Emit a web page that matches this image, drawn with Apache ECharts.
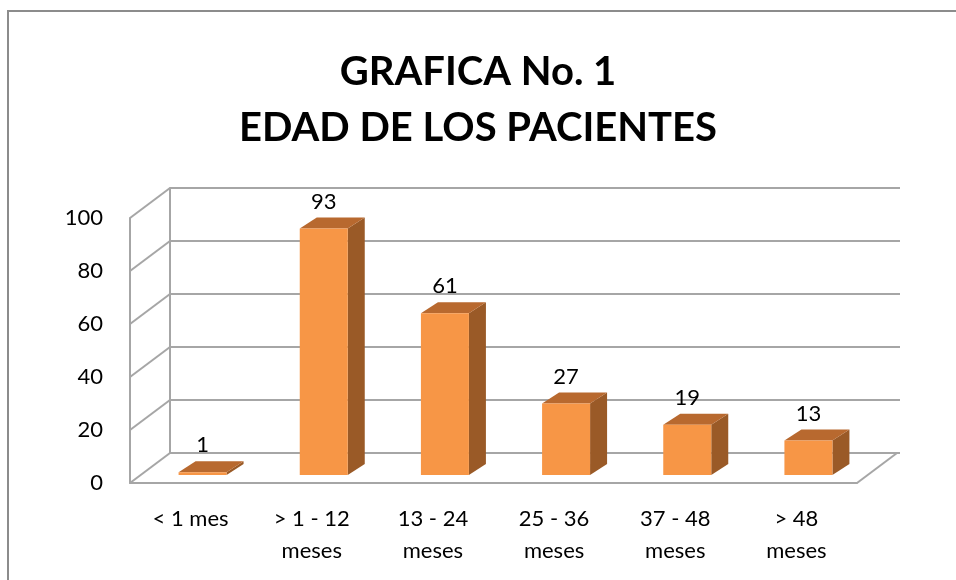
<!DOCTYPE html>
<html>
<head>
<meta charset="utf-8">
<script src="https://cdn.jsdelivr.net/npm/echarts@6/dist/echarts.min.js"></script>
<style>
  html, body { margin: 0; padding: 0; background: #fff; }
  #chart { width: 956px; height: 580px; }
</style>
</head>
<body>
<div id="chart"></div>
<script>
const categories = ['< 1 mes', '> 1 - 12\nmeses', '13 - 24\nmeses', '25 - 36\nmeses', '37 - 48\nmeses', '> 48\nmeses'];
const values = [1, 93, 61, 27, 19, 13];
const yTicks = [0, 20, 40, 60, 80, 100];

const FONT = 'Lato';
const GRID_COLOR = '#a6a6a6';
const WALL_DX = 40, WALL_DY = -30;   // back wall offset from the front plane
const BAR_DX = 12, BAR_DY = -8;      // bar plane offset
const DEPTH_X = 17, DEPTH_Y = -11;   // bar depth
const BAR_W = 48;

const chart = echarts.init(document.getElementById('chart'));

function renderBar(params, api) {
  const idx = api.value(0);
  const val = api.value(1);
  const top = api.coord([idx, val]);
  const base = api.coord([idx, 0]);
  const x = top[0] + BAR_DX - BAR_W / 2;
  const yT = top[1] + BAR_DY;
  const yB = base[1] + BAR_DY;
  return {
    type: 'group',
    children: [
      {
        type: 'polygon',
        shape: { points: [[x + BAR_W, yT], [x + BAR_W + DEPTH_X, yT + DEPTH_Y], [x + BAR_W + DEPTH_X, yB + DEPTH_Y], [x + BAR_W, yB]] },
        style: { fill: '#9a5a27' }
      },
      {
        type: 'polygon',
        shape: { points: [[x, yT], [x + DEPTH_X, yT + DEPTH_Y], [x + BAR_W + DEPTH_X, yT + DEPTH_Y], [x + BAR_W, yT]] },
        style: { fill: '#b8692f' }
      },
      {
        type: 'rect',
        shape: { x: x, y: yT, width: BAR_W, height: Math.max(yB - yT, 0) },
        style: { fill: '#f79646' }
      },
      {
        type: 'text',
        style: {
          text: String(val), x: x + BAR_W / 2, y: yT + DEPTH_Y - 16,
          align: 'center', verticalAlign: 'middle',
          font: '22px ' + FONT, fill: '#000'
        }
      }
    ]
  };
}

function renderDiag(params, api) {
  const v = api.value(0);
  const cs = params.coordSys;
  const y = api.coord([0, v])[1];
  const lineStyle = { stroke: GRID_COLOR, lineWidth: 2 };
  const children = [{
    type: 'line',
    shape: { x1: cs.x, y1: y, x2: cs.x + WALL_DX, y2: y + WALL_DY },
    style: lineStyle
  }];
  if (v === 0) {
    children.push({
      type: 'line',
      shape: { x1: cs.x + cs.width, y1: y, x2: cs.x + cs.width + WALL_DX, y2: y + WALL_DY },
      style: lineStyle
    });
  }
  return { type: 'group', children: children };
}

chart.setOption({
  animation: false,
  backgroundColor: '#fff',
  title: {
    text: 'GRAFICA No. 1\nEDAD DE LOS PACIENTES',
    left: 'center',
    top: 44,
    padding: [0, 0, 0, 20],
    textStyle: { fontFamily: FONT, fontWeight: 'bold', fontSize: 40, lineHeight: 56, color: '#000' }
  },
  graphic: [{
    type: 'rect',
    shape: { x: 8, y: 11, width: 1000, height: 1000 },
    style: { fill: 'none', stroke: '#8c8c8c', lineWidth: 2 },
    silent: true
  }],
  grid: [
    { left: 130, right: 99, top: 218, bottom: 97 },
    { left: 170, right: 56, top: 188, bottom: 127 }
  ],
  xAxis: [
    {
      type: 'category', gridIndex: 0, data: categories,
      axisLine: { lineStyle: { color: GRID_COLOR, width: 2 } },
      axisTick: { show: false },
      axisLabel: { interval: 0, margin: 20, fontFamily: FONT, fontSize: 22, lineHeight: 32, color: '#000' }
    },
    {
      type: 'category', gridIndex: 1, data: categories,
      axisLine: { show: false }, axisTick: { show: false }, axisLabel: { show: false }
    }
  ],
  yAxis: [
    {
      type: 'value', gridIndex: 0, min: 0, max: 100, interval: 20,
      axisLine: { show: true, lineStyle: { color: GRID_COLOR, width: 2 } },
      axisTick: { show: false },
      splitLine: { show: false },
      axisLabel: { margin: 27, fontFamily: FONT, fontSize: 22, color: '#000' }
    },
    {
      type: 'value', gridIndex: 1, min: 0, max: 100, interval: 20,
      axisLine: { show: true, lineStyle: { color: GRID_COLOR, width: 2 } },
      axisTick: { show: false },
      axisLabel: { show: false },
      splitLine: { show: true, lineStyle: { color: GRID_COLOR, width: 2 } }
    }
  ],
  series: [
    {
      type: 'custom', xAxisIndex: 0, yAxisIndex: 0,
      data: yTicks.map(v => [v]),
      encode: { y: 0 },
      renderItem: renderDiag,
      silent: true, z: 1
    },
    {
      type: 'custom', xAxisIndex: 0, yAxisIndex: 0,
      data: values.map((v, i) => [i, v]),
      encode: { x: 0, y: 1 },
      renderItem: renderBar,
      clip: false, z: 3
    }
  ]
});
</script>
</body>
</html>
